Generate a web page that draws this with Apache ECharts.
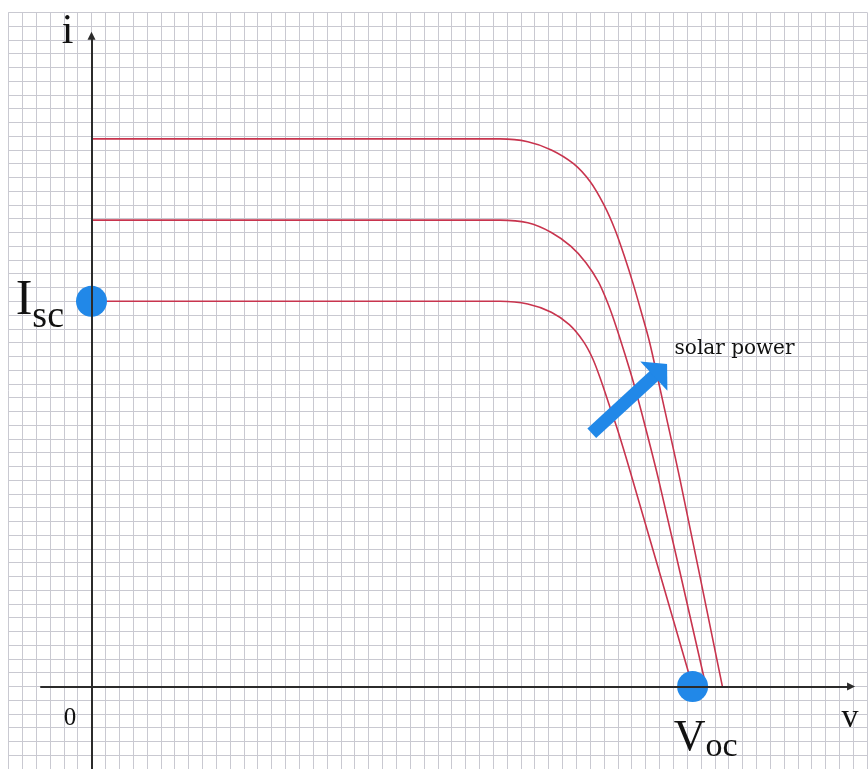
<!DOCTYPE html>
<html>
<head>
<meta charset="utf-8">
<script src="https://cdn.jsdelivr.net/npm/echarts@6/dist/echarts.min.js"></script>
<style>
html,body{margin:0;padding:0;background:#fff;}
#main{width:868px;height:769px;}
</style>
</head>
<body>
<div id="main"></div>
<script>
// i-v curves of a solar cell, one grid square = 1 unit
var curveHigh = [[0,39.8],[29.5,39.8],[31.5,39.6],[33.2,39.0],[34.8,38.0],[36.0,36.7],[37.0,35.0],[37.8,33.2],[38.5,31.2],[39.1,29.3],[39.7,27.2],[40.3,25.0],[41.3,20.5],[42.5,15.0],[45.55,0]];
var curveMid = [[0,33.9],[29.5,33.9],[31.5,33.7],[33.2,33.0],[34.6,32.0],[35.7,30.8],[36.6,29.4],[37.3,27.8],[37.9,26.1],[38.5,24.2],[39.1,22.2],[39.8,19.6],[41.0,14.8],[44.37,0]];
var curveLow = [[0,28],[29.5,28],[31.5,27.8],[33.2,27.2],[34.5,26.3],[35.5,25.1],[36.2,23.8],[36.8,22.2],[37.4,20.4],[38.0,18.6],[38.9,15.6],[43.4,0]];
var isc = [0, 28];
var voc = [43.4, 0];

var redLine = '#c8344e';
var blue = '#2188e8';
var ink = '#111';

var myChart = echarts.init(document.getElementById('main'));

function curve(name, pts){
    return {
        name: name,
        type: 'line',
        data: pts,
        smooth: 0.3,
        showSymbol: false,
        silent: true,
        z: 2,
        lineStyle: {color: redLine, width: 1.6}
    };
}

function note(text, at, font, size){
    return {
        coord: at,
        label: {
            show: true, position: 'inside', formatter: text, color: ink,
            fontFamily: font, fontSize: size
        }
    };
}

var option = {
    animation: false,
    backgroundColor: '#fff',
    grid: {left: 8.4, top: 12.35, width: 858.7, height: 761.75},
    xAxis: {
        type: 'value', min: -6, max: 56, interval: 1,
        axisLine: {show: false}, axisTick: {show: false}, axisLabel: {show: false},
        splitLine: {show: true, lineStyle: {color: '#c9c9d1', width: 1}}
    },
    yAxis: {
        type: 'value', min: -6, max: 49, interval: 1,
        axisLine: {show: false}, axisTick: {show: false}, axisLabel: {show: false},
        splitLine: {show: true, lineStyle: {color: '#c9c9d1', width: 1}}
    },
    series: [
        curve('high', curveHigh),
        curve('mid', curveMid),
        curve('low', curveLow),
        {
            // axes with arrow heads and their labels
            name: 'axes',
            type: 'line',
            data: [],
            silent: true,
            z: 3,
            markLine: {
                silent: true,
                symbol: 'none',
                label: {show: false},
                lineStyle: {color: '#2b2b2b', width: 2, type: 'solid'},
                data: [
                    [{coord: [0, -6]}, {coord: [0, 47.29], symbol: 'triangle', symbolSize: [8, 8]}],
                    [{coord: [-3.7, 0]}, {coord: [54.84, 0], symbol: 'triangle', symbolSize: [8, 8]}]
                ]
            },
            markPoint: {
                silent: true,
                symbol: 'circle',
                symbolSize: 1,
                itemStyle: {color: 'rgba(0,0,0,0)'},
                data: [
                    note('i', [-1.73, 47.6], 'Liberation Serif', 42),
                    note('v', [54.76, -2.28], 'Liberation Serif', 34),
                    note('0', [-1.55, -2.35], 'Liberation Serif', 25)
                ]
            }
        },
        {
            name: 'points',
            type: 'scatter',
            z: 4,
            silent: true,
            symbolSize: 31,
            itemStyle: {color: blue, opacity: 1},
            label: {
                show: true,
                color: ink,
                rich: {
                    big: {fontFamily: 'Liberation Serif', fontSize: 50, lineHeight: 50, verticalAlign: 'top', color: ink},
                    sub: {fontFamily: 'Liberation Serif', fontSize: 38, lineHeight: 38, verticalAlign: 'top', padding: [22, 0, 0, 0], color: ink},
                    bigV: {fontFamily: 'Liberation Serif', fontSize: 44, lineHeight: 44, verticalAlign: 'top', color: ink},
                    subV: {fontFamily: 'Liberation Serif', fontSize: 34, lineHeight: 34, verticalAlign: 'top', padding: [14, 0, 0, 0], color: ink}
                }
            },
            data: [
                {value: isc, label: {position: 'left', distance: 12, formatter: '{big|I}{sub|sc}'}},
                {value: voc, label: {position: 'bottom', distance: 14, offset: [13, 0], formatter: '{bigV|V}{subV|oc}'}}
            ]
        },
        {
            name: 'arrow',
            type: 'line',
            data: [],
            silent: true,
            z: 5,
            markLine: {
                silent: true,
                symbol: 'none',
                label: {show: false},
                lineStyle: {color: blue, width: 13, type: 'solid', cap: 'butt'},
                data: [
                    [{coord: [36.12, 18.4]}, {coord: [41.08, 23.0], symbol: 'triangle', symbolSize: [40, 18]}]
                ]
            },
            markPoint: {
                silent: true,
                symbol: 'circle',
                symbolSize: 1,
                itemStyle: {color: 'rgba(0,0,0,0)'},
                data: [
                    note('solar power', [46.43, 24.55], 'DejaVu Serif', 20)
                ]
            }
        }
    ]
};

myChart.setOption(option);

window.onresize = function () {
    myChart.resize();
};
</script>
</body>
</html>
